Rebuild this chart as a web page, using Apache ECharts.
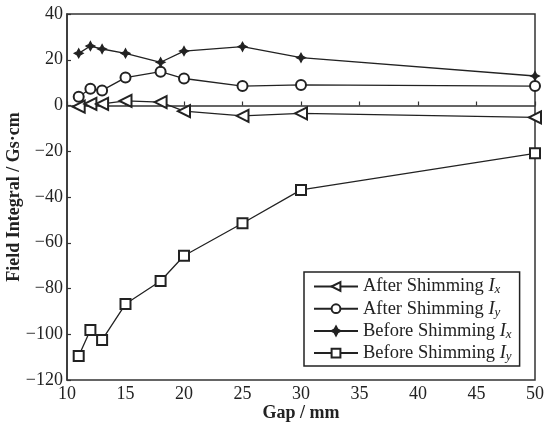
<!DOCTYPE html>
<html>
<head>
<meta charset="utf-8">
<script src="https://cdn.jsdelivr.net/npm/echarts@6/dist/echarts.min.js"></script>
<style>html,body{margin:0;padding:0;background:#fff}#c{width:546px;height:427px}</style>
</head>
<body>
<div id="c"></div>
<script>
const gaps = [11, 12, 13, 15, 18, 20, 25, 30, 50];
const afterIx  = [-0.5, 0.7, 0.7, 2.0, 1.5, -2.5, -4.5, -3.4, -5.2];
const afterIy  = [3.8, 7.3, 6.6, 12.2, 14.8, 11.8, 8.5, 9.0, 8.5];
const beforeIx = [22.8, 26.0, 24.7, 22.8, 18.9, 23.8, 25.7, 20.9, 12.9];
const beforeIy = [-109.5, -98.1, -102.5, -86.8, -76.7, -65.7, -51.5, -36.9, -20.9];
const seriesBase = ['After Shimming', 'After Shimming', 'Before Shimming', 'Before Shimming'];
const seriesSub = ['x', 'y', 'x', 'y'];
const seriesNames = seriesBase.map((b, i) => b + ' I' + seriesSub[i]);
const xName = 'Gap / mm';
const yName = 'Field Integral / Gs\u00b7cm';

const starPath = 'path://M0,-10L3.5,-3.5L10,0L3.5,3.5L0,10L-3.5,3.5L-10,0L-3.5,-3.5Z';
const ink = '#222';
const font = 'Liberation Serif';

function mk(name, data, symbol, size, rotate) {
  return {
    name: name,
    type: 'line',
    data: gaps.map((g, i) => [g, data[i]]),
    symbol: symbol,
    symbolSize: size,
    symbolRotate: rotate || 0,
    showAllSymbol: true,
    color: ink,
    lineStyle: { color: ink, width: 1.3 },
    itemStyle: { color: ink, borderColor: ink, borderWidth: 1.2 },
    emphasis: { disabled: true },
    animation: false,
    z: 3
  };
}

const chart = echarts.init(document.getElementById('c'), null, { renderer: 'canvas' });
chart.setOption({
  backgroundColor: '#fff',
  animation: false,
  grid: { left: 67, right: 11, top: 14, bottom: 47, containLabel: false, outerBoundsMode: 'none', show: true, borderColor: '#333', borderWidth: 1.5, backgroundColor: 'transparent' },
  legend: {
    orient: 'vertical',
    left: 304,
    top: 272,
    padding: [5, 8, 3, 9],
    itemGap: 2.7,
    itemWidth: 44,
    itemHeight: 11,
    borderColor: '#222',
    borderWidth: 1.5,
    backgroundColor: '#fff',
    data: seriesNames,
    formatter: function (name) {
      const i = seriesNames.indexOf(name);
      return '{t|' + seriesBase[i] + ' }{i|I}{s|' + seriesSub[i] + '}';
    },
    textStyle: {
      color: ink,
      fontFamily: font,
      fontSize: 18.5,
      rich: {
        t: { fontFamily: font, fontSize: 18.5, color: ink, lineHeight: 20 },
        i: { fontFamily: font, fontSize: 18.5, fontStyle: 'italic', color: ink, lineHeight: 20 },
        s: { fontFamily: font, fontSize: 13, fontStyle: 'italic', color: ink, verticalAlign: 'bottom' }
      }
    }
  },
  xAxis: {
    type: 'value',
    min: 10, max: 50, interval: 5,
    name: xName,
    nameLocation: 'middle',
    nameGap: 24,
    nameMoveOverlap: false,
    nameTextStyle: { fontFamily: font, fontWeight: 'bold', fontSize: 18, color: ink, verticalAlign: 'top' },
    axisLine: { show: true, lineStyle: { color: '#333', width: 1.5 } },
    axisTick: { show: true, inside: true, length: 4, lineStyle: { color: '#333', width: 1.2 } },
    axisLabel: { fontFamily: font, fontSize: 18, color: ink, margin: 5 },
    splitLine: { show: false }
  },
  yAxis: {
    type: 'value',
    min: -120, max: 40, interval: 20,
    name: yName,
    nameLocation: 'middle',
    nameGap: 44,
    nameMoveOverlap: false,
    nameRotate: 90,
    nameTextStyle: { fontFamily: font, fontWeight: 'bold', fontSize: 18, color: ink },
    axisLine: { show: true, lineStyle: { color: '#333', width: 1.5 } },
    axisTick: { show: true, inside: true, length: 4, lineStyle: { color: '#333', width: 1.2 } },
    axisLabel: { fontFamily: font, fontSize: 18, color: ink, margin: 4, formatter: v => String(v).replace('-', '\u2212') },
    splitLine: { show: false }
  },
  series: [
    mk(seriesNames[0], afterIx, 'emptyTriangle', 12, 90),
    mk(seriesNames[1], afterIy, 'emptyCircle', 10),
    mk(seriesNames[2], beforeIx, starPath, 9),
    mk(seriesNames[3], beforeIy, 'emptyRect', 10)
  ]
});
</script>
</body>
</html>
